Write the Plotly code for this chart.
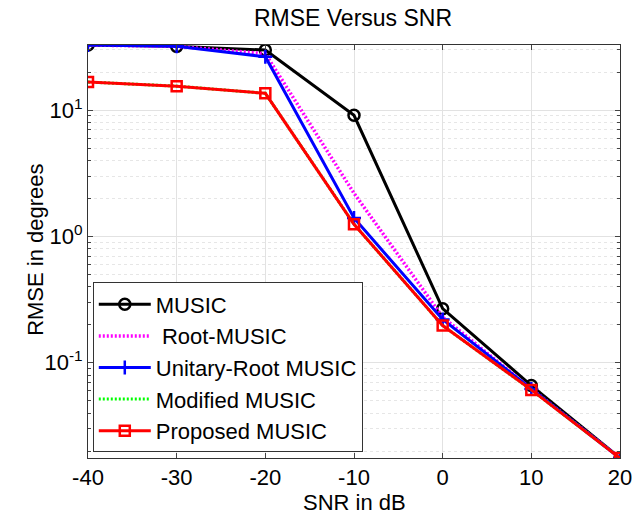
import plotly.graph_objects as go

snr = [-40, -30, -20, -10, 0, 10, 20]
music = [32.8, 32.0, 29.9, 9.1, 0.268, 0.066, 0.0176]
root_music = [32.8, 32.0, 28.0, 2.2, 0.23, 0.062, 0.0176]
unitary_root = [32.8, 32.0, 26.5, 1.4, 0.22, 0.062, 0.0176]
modified_music = [16.7, 15.5, 13.6, 1.25, 0.197, 0.061, 0.0176]
proposed_music = [16.7, 15.5, 13.6, 1.25, 0.197, 0.061, 0.0176]

names = ["MUSIC", " Root-MUSIC", "Unitary-Root MUSIC", "Modified MUSIC", "Proposed MUSIC"]
ytickvals = [0.1, 1, 10]
yticktext = ["10<sup>-1</sup>", "10<sup>0</sup>", "10<sup>1</sup>"]
xtickvals = [-40, -30, -20, -10, 0, 10, 20]
xticktext = ["-40", "-30", "-20", "-10", "0", "10", "20"]

fig = go.Figure()
fig.add_trace(go.Scatter(x=snr, y=music, name=names[0], mode="lines+markers",
                         line=dict(color="black", width=3),
                         marker=dict(symbol="circle-open", size=11, color="black", line=dict(width=2.5))))
fig.add_trace(go.Scatter(x=snr, y=root_music, name=names[1], mode="lines",
                         line=dict(color="#ff00ff", width=3.5, dash="2px,2px")))
fig.add_trace(go.Scatter(x=snr, y=unitary_root, name=names[2], mode="lines+markers",
                         line=dict(color="#0000ff", width=3),
                         marker=dict(symbol="cross-thin-open", size=10, color="#0000ff",
                                     line=dict(width=2.5, color="#0000ff"))))
fig.add_trace(go.Scatter(x=snr, y=modified_music, name=names[3], mode="lines",
                         line=dict(color="#00ff00", width=3, dash="2px,2px")))
fig.add_trace(go.Scatter(x=snr, y=proposed_music, name=names[4], mode="lines+markers",
                         line=dict(color="#ff0000", width=3),
                         marker=dict(symbol="square-open", size=10, color="#ff0000", line=dict(width=2.5))))

font = "Liberation Sans, Arial, sans-serif"
fig.update_layout(
    width=643, height=513,
    margin=dict(l=88, r=23, t=45, b=55),
    paper_bgcolor="white", plot_bgcolor="white",
    font=dict(family=font, size=22, color="black"),
    title=dict(text="RMSE Versus SNR", x=0.549, xanchor="center", y=0.965, yanchor="middle",
               font=dict(size=23, family=font, color="black")),
    legend=dict(x=0.009, y=0.425, xanchor="left", yanchor="top",
                bordercolor="#333", borderwidth=1, bgcolor="white",
                font=dict(size=22, family=font), itemwidth=52, tracegroupgap=0),
    showlegend=True,
    annotations=[
        dict(text="RMSE in degrees", textangle=-90, xref="paper", yref="paper",
             x=-0.0977, y=0.504, xanchor="center", yanchor="middle", showarrow=False,
             font=dict(size=22, family=font, color="black")),
        dict(text="SNR in dB", xref="paper", yref="paper",
             x=0.5, y=-0.108, xanchor="center", yanchor="middle", showarrow=False,
             font=dict(size=22, family=font, color="black")),
    ],
)
fig.update_xaxes(range=[-40, 20], tickvals=xtickvals, ticktext=xticktext, ticks="inside", ticklen=5,
                 showline=True, linecolor="#333", linewidth=1, mirror="ticks",
                 showgrid=True, gridcolor="#e2e2e2", zeroline=False, automargin=False,
                 ticklabelstandoff=0,
                 tickfont=dict(size=22))
fig.update_yaxes(type="log", range=[-1.754, 1.516], tickvals=ytickvals, ticktext=yticktext,
                 ticks="inside", ticklen=5, showline=True, linecolor="#333", linewidth=1, mirror="ticks",
                 showgrid=True, gridcolor="#e2e2e2", zeroline=False, automargin=False,
                 minor=dict(ticks="inside", ticklen=3, showgrid=True, gridcolor="#e6e6e6",
                            griddash="dot", dtick="D1"),
                 tickfont=dict(size=22))

fig.write_html("out.html", config={"displayModeBar": False},
               post_script="document.body.style.margin='0';")
